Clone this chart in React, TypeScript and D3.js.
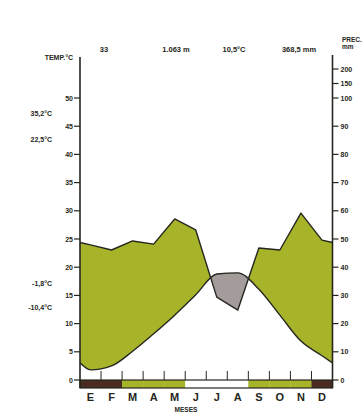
import React from "react";
import * as d3 from "d3";

const months = ["E", "F", "M", "A", "M", "J", "J", "A", "S", "O", "N", "D"];
const temperature = [1.8, 2.5, 5.1, 8.2, 11.5, 15.1, 18.8, 19.0, 16.1, 11.5, 6.9, 4.3];
const precipitation = [47.9, 46.1, 49.3, 48.2, 57.1, 53.2, 29.4, 24.8, 46.8, 46.1, 59.2, 49.6];
const frostCodes = ["h", "h", "p", "p", "p", "n", "n", "n", "p", "p", "p", "h"];
const tempTicks = [0, 5, 10, 15, 20, 25, 30, 35, 40, 45, 50];
const precTicks = [0, 10, 20, 30, 40, 50, 60, 70, 80, 90, 100, 150, 200];
const headerTexts = ["33", "1.063 m", "10,5°C", "368,5 mm"];
const leftNotes = ["35,2°C", "22,5°C", "-1,8°C", "-10,4°C"];

const GREEN = "#a7b42a";
const GREY = "#a39c9b";
const BROWN = "#4b2c20";
const INK = "#262620";
const FONT = "'Liberation Sans Narrow', 'Liberation Sans', Arial, sans-serif";

export default function App() {
  const x0 = 80, x1 = 332.5;
  const x = d3.scaleLinear().domain([0, 12]).range([x0, x1]);
  const yT = d3.scaleLinear().domain([0, 50]).range([380, 98]);
  const yP = d3.scaleLinear().domain([0, 100, 200]).range([380, 98, 69]);

  const edgeT = (temperature[0] + temperature[11]) / 2;
  const edgeP = (precipitation[0] + precipitation[11]) / 2;
  const tPts: [number, number][] = [[0, edgeT], ...temperature.map((v, i) => [i + 0.5, v] as [number, number]), [12, edgeT]];
  const pPts: [number, number][] = [[0, edgeP], ...precipitation.map((v, i) => [i + 0.5, v] as [number, number]), [12, edgeP]];

  const tLine = d3.line<[number, number]>().x(d => x(d[0])).y(d => yT(d[1])).curve(d3.curveMonotoneX);
  const pLine = d3.line<[number, number]>().x(d => x(d[0])).y(d => yP(d[1]));

  const underP = d3.area<[number, number]>().x(d => x(d[0])).y0(395).y1(d => yP(d[1]))(pPts) || "";
  const aboveP = d3.area<[number, number]>().x(d => x(d[0])).y0(40).y1(d => yP(d[1]))(pPts) || "";
  const aboveT = d3.area<[number, number]>().x(d => x(d[0])).y0(d => yT(d[1])).y1(40).curve(d3.curveMonotoneX)(tPts) || "";
  const underT = d3.area<[number, number]>().x(d => x(d[0])).y0(395).y1(d => yT(d[1])).curve(d3.curveMonotoneX)(tPts) || "";

  const bw = (x1 - x0) / 12;
  const codeColor: Record<string, string> = { h: BROWN, p: GREEN, n: "#ffffff" };

  const headerX = [104, 176, 234, 299];
  const noteY = [113, 139, 283, 307];

  return (
    <svg width={363} height={419} style={{ position: "absolute", left: 0, top: 0, background: "#fff" }}
      fontFamily={FONT} fontWeight="bold">
      <defs>
        <clipPath id="underP"><path d={underP} /></clipPath>
        <clipPath id="aboveP"><path d={aboveP} /></clipPath>
      </defs>
      <rect width={363} height={419} fill="#fff" />

      <path d={aboveT} fill={GREEN} clipPath="url(#underP)" />
      <path d={underT} fill={GREY} clipPath="url(#aboveP)" />

      <path d={pLine(pPts) || ""} fill="none" stroke={INK} strokeWidth={1.4} strokeLinejoin="round" />
      <path d={tLine(tPts) || ""} fill="none" stroke={INK} strokeWidth={1.4} />

      {d3.range(1, 12).map(i => (
        <line key={"mt" + i} x1={x(i)} x2={x(i)} y1={371} y2={380} stroke={INK} strokeWidth={1} />
      ))}

      {frostCodes.map((c, i) => (
        <rect key={"fb" + i} x={x(i)} y={380} width={bw + 0.3} height={8} fill={codeColor[c]} />
      ))}
      <rect x={x0} y={380} width={x1 - x0} height={8} fill="none" stroke={INK} strokeWidth={1.2} />

      <line x1={x0} x2={x0} y1={57} y2={388} stroke={INK} strokeWidth={1.6} />
      <line x1={x1} x2={x1} y1={55} y2={388} stroke={INK} strokeWidth={1.6} />

      {tempTicks.map(t => (
        <g key={"tt" + t}>
          <line x1={x0 - 6} x2={x0} y1={yT(t)} y2={yT(t)} stroke={INK} strokeWidth={1.2} />
          <text x={x0 - 7} y={yT(t) + 2.5} fontSize={7} textAnchor="end" fill={INK}>{t}</text>
        </g>
      ))}
      {precTicks.map(p => (
        <g key={"pt" + p}>
          <line x1={x1} x2={x1 + 6} y1={yP(p)} y2={yP(p)} stroke={INK} strokeWidth={1.2} />
          <text x={x1 + 8} y={yP(p) + 2.5} fontSize={7} textAnchor="start" fill={INK}>{p}</text>
        </g>
      ))}

      <text x={73} y={60} fontSize={7} textAnchor="end" fill={INK}>TEMP.°C</text>
      <text x={342} y={42} fontSize={6.5} fill={INK}>PREC.</text>
      <text x={342} y={49} fontSize={6.5} fill={INK}>mm</text>

      {headerTexts.map((t, i) => (
        <text key={"h" + i} x={headerX[i]} y={52} fontSize={7.5} textAnchor="middle" fill={INK}>{t}</text>
      ))}

      {leftNotes.map((t, i) => (
        <text key={"n" + i} x={52} y={noteY[i] + 2.5} fontSize={7} textAnchor="end" fill={INK}>{t}</text>
      ))}

      {months.map((m, i) => (
        <text key={"m" + i} x={x(i + 0.5)} y={401} fontSize={11} textAnchor="middle" fill={INK}>{m}</text>
      ))}
      <text x={186} y={412} fontSize={6.5} textAnchor="middle" fill={INK}>MESES</text>
    </svg>
  );
}
